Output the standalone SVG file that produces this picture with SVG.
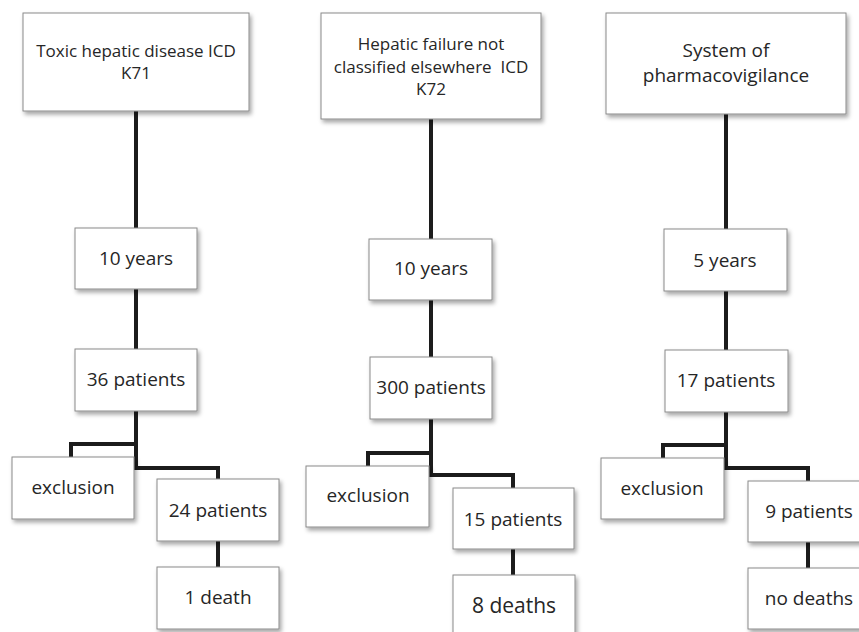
<svg xmlns="http://www.w3.org/2000/svg" width="859" height="632" viewBox="0 0 859 632">
<defs>
<filter id="sh" x="-10%" y="-10%" width="125%" height="135%">
<feDropShadow dx="2" dy="3" stdDeviation="2" flood-color="#000" flood-opacity="0.35"/>
</filter>
<style>
.box{fill:#fff;stroke:#8a8a8a;stroke-width:1;filter:url(#sh)}
.t{font-family:"Open Sans","Liberation Sans",sans-serif;fill:#262626;text-anchor:middle;font-size:19px}
.h{font-size:17px}
.c{fill:none;stroke:#1c1c1c;stroke-width:4;stroke-linejoin:miter}
</style>
</defs>
<rect width="859" height="632" fill="#fff"/>
<g id="connectors">
<path class="c" d="M136 111V228M136 289V349M136 411V468H218V479M136 444H71V457M218 541V567"/>
<path class="c" d="M431 119V239M431 300V357M431 419V475H513V488M431 453H368V466M513 549V575"/>
<path class="c" d="M726 114V229M726 291V350M726 412V468H808V481M726 445H663V458M808 542V568"/>
</g>
<g id="k71">
<rect class="box" x="23" y="13" width="226" height="98"/>
<text class="t h" x="136" y="57">Toxic hepatic disease ICD</text>
<text class="t h" x="136" y="79">K71</text>
</g>
<g id="k71-years">
<rect class="box" x="75" y="228" width="122" height="61"/>
<text class="t" x="136" y="265">10 years</text>
</g>
<g id="k71-patients">
<rect class="box" x="75" y="349" width="122" height="62"/>
<text class="t" x="136" y="386">36 patients</text>
</g>
<g id="k71-exclusion">
<rect class="box" x="12" y="457" width="122" height="62"/>
<text class="t" x="73" y="494">exclusion</text>
</g>
<g id="k71-24">
<rect class="box" x="157" y="479" width="122" height="62"/>
<text class="t" x="218" y="517">24 patients</text>
</g>
<g id="k71-death">
<rect class="box" x="157" y="567" width="122" height="62"/>
<text class="t" x="218" y="604">1 death</text>
</g>
<g id="k72">
<rect class="box" x="321" y="13" width="220" height="106"/>
<text class="t h" x="431" y="50">Hepatic failure not</text>
<text class="t h" x="431" y="73" style="white-space:pre">classified elsewhere  ICD</text>
<text class="t h" x="431" y="95">K72</text>
</g>
<g id="k72-years">
<rect class="box" x="369" y="239" width="123" height="61"/>
<text class="t" x="431" y="275">10 years</text>
</g>
<g id="k72-patients">
<rect class="box" x="370" y="357" width="122" height="62"/>
<text class="t" x="431" y="394">300 patients</text>
</g>
<g id="k72-exclusion">
<rect class="box" x="306" y="466" width="123" height="61"/>
<text class="t" x="368" y="502">exclusion</text>
</g>
<g id="k72-15">
<rect class="box" x="453" y="488" width="121" height="61"/>
<text class="t" x="513" y="526">15 patients</text>
</g>
<g id="k72-deaths">
<rect class="box" x="453" y="575" width="122" height="70"/>
<text class="t" x="514" y="613" style="font-size:21px">8 deaths</text>
</g>
<g id="pv">
<rect class="box" x="606" y="13" width="240" height="101"/>
<text class="t" x="726" y="57">System of</text>
<text class="t" x="726" y="82">pharmacovigilance</text>
</g>
<g id="pv-years">
<rect class="box" x="664" y="229" width="123" height="62"/>
<text class="t" x="725" y="267">5 years</text>
</g>
<g id="pv-patients">
<rect class="box" x="665" y="350" width="123" height="62"/>
<text class="t" x="726" y="387">17 patients</text>
</g>
<g id="pv-exclusion">
<rect class="box" x="601" y="458" width="123" height="61"/>
<text class="t" x="662" y="495">exclusion</text>
</g>
<g id="pv-9">
<rect class="box" x="748" y="481" width="122" height="61"/>
<text class="t" x="809" y="518">9 patients</text>
</g>
<g id="pv-nodeaths">
<rect class="box" x="748" y="568" width="122" height="61"/>
<text class="t" x="809" y="605">no deaths</text>
</g>
</svg>
